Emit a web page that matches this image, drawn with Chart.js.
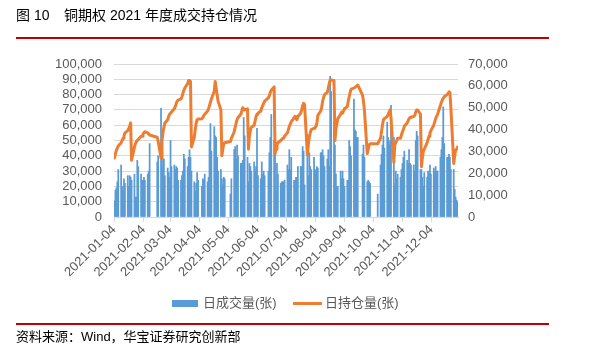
<!DOCTYPE html>
<html><head><meta charset="utf-8">
<script src="https://cdn.jsdelivr.net/npm/chart.js@4.4.1/dist/chart.umd.min.js"></script>
<style>
html,body{margin:0;padding:0;background:#fff;}
#wrap{position:relative;width:595px;height:352px;overflow:hidden;font-family:"Liberation Sans","Noto Sans CJK SC",sans-serif;}
#c{position:absolute;left:0;top:0;}
.t{position:absolute;white-space:nowrap;}
</style></head><body>
<div id="wrap">
<canvas id="c" width="595" height="352"></canvas>
<div class="t" style="left:16px;top:6px;font-size:14px;line-height:18px;color:#000">图 10</div>
<div class="t" style="left:64px;top:6px;font-size:14px;line-height:18px;color:#000">铜期权 2021 年度成交持仓情况</div>
<div style="position:absolute;left:16px;top:37px;width:533px;height:2px;background:#c00000"></div>
<div style="position:absolute;left:172px;top:300px;width:26px;height:7px;background:#5B9BD5"></div>
<div class="t" style="left:203px;top:295px;font-size:13px;line-height:16px;color:#595959">日成交量(张)</div>
<div style="position:absolute;left:293px;top:302px;width:29px;height:3px;background:#ED7D31"></div>
<div class="t" style="left:325px;top:295px;font-size:13px;line-height:16px;color:#595959">日持仓量(张)</div>
<div style="position:absolute;left:16px;top:323px;width:533px;height:2px;background:#c00000"></div>
<div class="t" style="left:16px;top:329px;font-size:13px;line-height:16px;color:#000">资料来源：Wind，华宝证券研究创新部</div>
</div>
<script>
const tradingDates = [
"2021-01-04","2021-01-05","2021-01-06","2021-01-07","2021-01-08","2021-01-11","2021-01-12","2021-01-13","2021-01-14","2021-01-15","2021-01-18","2021-01-19","2021-01-20","2021-01-21","2021-01-22","2021-01-25","2021-01-26","2021-01-27","2021-01-28","2021-01-29",
"2021-02-01","2021-02-02","2021-02-03","2021-02-04","2021-02-05","2021-02-08","2021-02-09","2021-02-10","2021-02-18","2021-02-19","2021-02-22","2021-02-23","2021-02-24","2021-02-25","2021-02-26",
"2021-03-01","2021-03-02","2021-03-03","2021-03-04","2021-03-05","2021-03-08","2021-03-09","2021-03-10","2021-03-11","2021-03-12","2021-03-15","2021-03-16","2021-03-17","2021-03-18","2021-03-19","2021-03-22","2021-03-23","2021-03-24","2021-03-25","2021-03-26","2021-03-29","2021-03-30","2021-03-31",
"2021-04-01","2021-04-02","2021-04-06","2021-04-07","2021-04-08","2021-04-09","2021-04-12","2021-04-13","2021-04-14","2021-04-15","2021-04-16","2021-04-19","2021-04-20","2021-04-21","2021-04-22","2021-04-23","2021-04-26","2021-04-27","2021-04-28","2021-04-29","2021-04-30",
"2021-05-06","2021-05-07","2021-05-10","2021-05-11","2021-05-12","2021-05-13","2021-05-14","2021-05-17","2021-05-18","2021-05-19","2021-05-20","2021-05-21","2021-05-24","2021-05-25","2021-05-26","2021-05-27","2021-05-28","2021-05-31",
"2021-06-01","2021-06-02","2021-06-03","2021-06-04","2021-06-07","2021-06-08","2021-06-09","2021-06-10","2021-06-11","2021-06-15","2021-06-16","2021-06-17","2021-06-18","2021-06-21","2021-06-22","2021-06-23","2021-06-24","2021-06-25","2021-06-28","2021-06-29","2021-06-30",
"2021-07-01","2021-07-02","2021-07-05","2021-07-06","2021-07-07","2021-07-08","2021-07-09","2021-07-12","2021-07-13","2021-07-14","2021-07-15","2021-07-16","2021-07-19","2021-07-20","2021-07-21","2021-07-22","2021-07-23","2021-07-26","2021-07-27","2021-07-28","2021-07-29","2021-07-30",
"2021-08-02","2021-08-03","2021-08-04","2021-08-05","2021-08-06","2021-08-09","2021-08-10","2021-08-11","2021-08-12","2021-08-13","2021-08-16","2021-08-17","2021-08-18","2021-08-19","2021-08-20","2021-08-23","2021-08-24","2021-08-25","2021-08-26","2021-08-27","2021-08-30","2021-08-31",
"2021-09-01","2021-09-02","2021-09-03","2021-09-06","2021-09-07","2021-09-08","2021-09-09","2021-09-10","2021-09-13","2021-09-14","2021-09-15","2021-09-16","2021-09-17","2021-09-22","2021-09-23","2021-09-24","2021-09-27","2021-09-28","2021-09-29","2021-09-30",
"2021-10-08","2021-10-11","2021-10-12","2021-10-13","2021-10-14","2021-10-15","2021-10-18","2021-10-19","2021-10-20","2021-10-21","2021-10-22","2021-10-25","2021-10-26","2021-10-27","2021-10-28","2021-10-29",
"2021-11-01","2021-11-02","2021-11-03","2021-11-04","2021-11-05","2021-11-08","2021-11-09","2021-11-10","2021-11-11","2021-11-12","2021-11-15","2021-11-16","2021-11-17","2021-11-18","2021-11-19","2021-11-22","2021-11-23","2021-11-24","2021-11-25","2021-11-26","2021-11-29","2021-11-30",
"2021-12-01","2021-12-02","2021-12-03","2021-12-06","2021-12-07","2021-12-08","2021-12-09","2021-12-10","2021-12-13","2021-12-14","2021-12-15","2021-12-16","2021-12-17","2021-12-20","2021-12-21","2021-12-22","2021-12-23","2021-12-24","2021-12-27","2021-12-28","2021-12-29","2021-12-30","2021-12-31"
];
const dailyVolume = [
10500,17600,19000,23000,31000, 34000,20000,17000,25000,22000, 27000,20000,27000,26000,24000, 28000,13000,13000,37000,33000,
28000,24000,24000,26000,24000, 28000,30000,48000, 36000,40000, 71000,39000,32000,38000,27000,
32000,29000,26000,50000,33000, 34000,31000,33000,32000,24000, 24000,27000,30000,41000,38000, 33000,39000,44000,39000,30000, 23000,17000,22000,
29000,24000, 20000,25000,24000,28000, 23000,26000,50000,61000,43000, 59000,53000,52000,39000,30000, 31000,25000,21000,26000,25000,
15000,25000, 44000,46000,38000,47000,40000, 35000,35000,37000,65000,53000, 39000,23000,35000,33000,30000, 36000,
30000,33000,58000,27000, 25000,36000,28000,30000,27000, 30000,42000,52000,67000, 50000,48000,17000,35000,28000, 22000,23000,23000,
23000,24000, 34000,31000,44000,31000,39000, 24000,24000,26000,26000,33000, 33000,33000,46000,43000,21000, 54000,27000,42000,33000,31000,
39000,31000,30000,33000,32000, 42000,42000,44000,40000,33000, 38000,44000,33000,92000,82000, 62000,47000,28000,20000,20000, 30000,25000,
30000,25000,20000, 24000,24000,50000,46000,40000, 77000,57000,56000,52000,52000, 41000,47000,39000, 23000,24000,23000,22000,
15000, 34000,41000,47000,53000,45000, 62000,52000,47000,50000,73000, 52000,21000,30000,25000,28000,
26000,31000,35000,39000,43000, 37000,35000,44000,35000,34000, 34000,30000,50000,56000,53000, 31000,31000,26000,20000,29000, 26000,30000,
28000,34000,28000, 32000,30000,33000,30000,30000, 39000,44000,52000,72000,48000, 39000,39000,41000,39000,31000, 31000,18000,13000,11000,10000
];
const dailyOpenInterest = [
27000,29000,30500,31500,32500, 34000,35000,36000,37000,38500, 39500,40500,41500,43000,26000, 32000,33500,34500,35000,35500,
37000,37000,38000,38500,39000, 38500,38000,37500, 36500,34500, 27000,35000,38500,41000,43000,
44500,46000,47000,47500,48000, 49500,50500,52000,53000,53500, 54000,55000,56500,58000,59000, 61000,62500,62500,62000,32000, 36500,40000,43000,
44500,44800, 45000,45500,46500,47000, 48500,49500,51000,52500,54000, 57500,62000,59000,56000,53000, 49000,28000,31000,33500,34000,
34500,36000, 39000,41000,43000,44500,45500, 47000,48500,50000,49500,49000, 49500,31000,37000,39500,41000, 42000,
44000,46000,47000,47500, 48500,50000,51000,52000,53000, 54500,55500,57000,58000, 59500,29000,31000,33000,34000, 35000,35500,36000,
36000,37000, 38500,40000,41500,42500,43500, 45500,46000,45000,44500,46000, 47500,49000,51000,52000,51500, 28500,33000,36500,38500,40000,
40600,41000,41300,43000,46500, 48500,50000,53000,54500,56000, 57000,59000,61000,62700,62700, 62500,35000,40000,42500,45000, 47000,48000,
47500,48500,49500, 50500,53000,55000,57000,58500, 59000,59300,59600,60000,60400, 55800,53000,49000, 29000,31000,33000,33500,
33500, 36000,39000,42000,44500,45000, 46000,47000,48000,49000,45500, 25000,33000,34000,35000,36000,
36000,37500,39000,40000,41500, 43000,44000,45000,45500,45800, 46000,46500,48000,49000,49000, 47000,23000,27000,30000,31000, 34000,35500,
37000,38500,39500, 42000,43500,45000,46000,47000, 51000,52500,53500,54300,55000, 56000,56500,57300,57000,50000, 24500,28000,30600,31000,32000
];
const tickLabels = ["2021-01-04","2021-02-04","2021-03-04","2021-04-04","2021-05-04","2021-06-04","2021-07-04","2021-08-04","2021-09-04","2021-10-04","2021-11-04","2021-12-04"];
const seriesNames = ["日成交量(张)","日持仓量(张)"];

const dayOf = s => (Date.UTC(2021, +s.slice(5,7)-1, +s.slice(8,10)) - Date.UTC(2021,0,4)) / 864e5;
const volPts = tradingDates.map((d,i) => ({x: dayOf(d)+0.5, y: dailyVolume[i]}));
const oiPts = tradingDates.map((d,i) => ({x: dayOf(d)+0.5, y: dailyOpenInterest[i]}));
const tickDays = tickLabels.map(dayOf);
const fmt = v => Number(v).toLocaleString('en-US');
const tickFont = {family: '"Liberation Sans","Noto Sans CJK SC",sans-serif', size: 13};

new Chart(document.getElementById('c'), {
  type: 'bar',
  data: {
    datasets: [
      {type:'bar', label: seriesNames[0], data: volPts, yAxisID:'y', backgroundColor:'#5B9BD5', barThickness:1.1, order:2},
      {type:'line', label: seriesNames[1], data: oiPts, yAxisID:'y1', borderColor:'#ED7D31', borderWidth:3, pointRadius:0, tension:0, borderCapStyle:'round', borderJoinStyle:'round', order:1}
    ]
  },
  options: {
    responsive:false, animation:false,
    layout:{padding:{left:55,right:87,top:64,bottom:55}},
    plugins:{legend:{display:false}, tooltip:{enabled:false}},
    scales:{
      x:{type:'linear', min:0, max:362, offset:false,
        grid:{display:true, drawOnChartArea:false, drawTicks:true, tickLength:5, color:'#D9D9D9', offset:false},
        border:{display:true, color:'#D9D9D9'},
        afterBuildTicks: ax => { ax.ticks = tickDays.map(v => ({value:v})); },
        afterFit: s => { s.height = 80; },
        ticks:{autoSkip:false, maxRotation:45, minRotation:45, padding:0, color:'#595959', font:tickFont,
          callback:(v,i) => tickLabels[i]}
      },
      y:{position:'left', min:0, max:100000,
        grid:{color:'#D9D9D9', drawTicks:false},
        border:{display:false},
        afterFit: s => { s.width = 59; },
        ticks:{stepSize:10000, autoSkip:false, padding:12, color:'#595959', font:tickFont, callback: fmt}
      },
      y1:{position:'right', min:0, max:70000,
        grid:{display:false, drawTicks:false},
        border:{display:false},
        afterFit: s => { s.width = 50; },
        ticks:{stepSize:10000, autoSkip:false, padding:10, color:'#595959', font:tickFont, callback: fmt}
      }
    }
  }
});
</script>
</body></html>
